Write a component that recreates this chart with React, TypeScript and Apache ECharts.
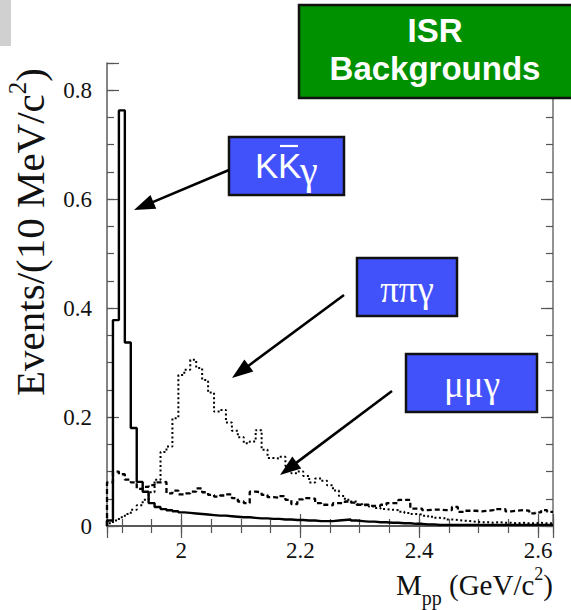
import React, { useEffect, useRef } from "react";
import * as echarts from "echarts";

// Histogram binning: 10 MeV/c^2 bins over the p-pbar mass range
const binStart = 1.875;
const binWidth = 0.01;
const xRange = [1.875, 2.625];
const yRange = [0, 0.85];

// K Kbar gamma background (solid)
const kkGamma = [
  0.010, 0.378, 0.763, 0.337, 0.180, 0.081, 0.063, 0.042, 0.035, 0.031,
  0.029, 0.027, 0.025, 0.024, 0.023, 0.022, 0.021, 0.020, 0.019, 0.019,
  0.018, 0.017, 0.016, 0.016, 0.015, 0.014, 0.014, 0.013, 0.013, 0.012,
  0.012, 0.011, 0.011, 0.010, 0.010, 0.009, 0.009, 0.009, 0.010, 0.011,
  0.012, 0.010, 0.009, 0.008, 0.008, 0.007, 0.007, 0.006, 0.006, 0.005,
  0.005, 0.004, 0.004, 0.003, 0.003, 0.002, 0.002, 0.002, 0.002, 0.002,
  0.002, 0.002, 0.002, 0.002, 0.002, 0.002, 0.002, 0.002, 0.002, 0.002,
  0.002, 0.002, 0.002, 0.002, 0.002,
];

// pi pi gamma background (dotted)
const pipiGamma = [
  0.005, 0.010, 0.016, 0.022, 0.030, 0.038, 0.048, 0.062, 0.085, 0.136,
  0.146, 0.198, 0.277, 0.287, 0.305, 0.290, 0.268, 0.245, 0.210, 0.213,
  0.190, 0.175, 0.163, 0.152, 0.155, 0.176, 0.140, 0.125, 0.124, 0.127,
  0.110, 0.097, 0.100, 0.092, 0.080, 0.087, 0.083, 0.075, 0.065, 0.055,
  0.048, 0.045, 0.040, 0.038, 0.036, 0.033, 0.031, 0.030, 0.029, 0.026,
  0.024, 0.022, 0.021, 0.019, 0.017, 0.015, 0.014, 0.012, 0.011, 0.010,
  0.009, 0.008, 0.007, 0.007, 0.006, 0.007, 0.006, 0.006, 0.005, 0.006,
  0.005, 0.005, 0.006, 0.005, 0.005,
];

// mu mu gamma background (dashed)
const mumuGamma = [
  0.080, 0.100, 0.095, 0.085, 0.080, 0.068, 0.072, 0.075, 0.080, 0.081,
  0.060, 0.065, 0.058, 0.060, 0.063, 0.069, 0.062, 0.057, 0.054, 0.056,
  0.058, 0.051, 0.045, 0.042, 0.063, 0.062, 0.057, 0.053, 0.052, 0.055,
  0.048, 0.040, 0.049, 0.051, 0.050, 0.042, 0.039, 0.038, 0.042, 0.042,
  0.045, 0.043, 0.039, 0.039, 0.037, 0.037, 0.039, 0.042, 0.042, 0.048,
  0.048, 0.032, 0.032, 0.029, 0.030, 0.030, 0.029, 0.029, 0.035, 0.026,
  0.028, 0.028, 0.027, 0.028, 0.029, 0.031, 0.031, 0.027, 0.028, 0.029,
  0.028, 0.023, 0.025, 0.029, 0.026,
];

// Turn bin contents into step-line points on the bin edges
function toSteps(values: number[]): [number, number][] {
  const pts: [number, number][] = [[binStart, 0]];
  values.forEach((v, i) => pts.push([+(binStart + i * binWidth).toFixed(3), v]));
  pts.push([+(binStart + values.length * binWidth).toFixed(3), values[values.length - 1]]);
  return pts;
}

function arrow(x1: number, y1: number, x2: number, y2: number) {
  const dx = x2 - x1;
  const dy = y2 - y1;
  const len = Math.hypot(dx, dy);
  const ux = dx / len;
  const uy = dy / len;
  const hl = 21;
  const hw = 7.5;
  const bx = x2 - ux * hl;
  const by = y2 - uy * hl;
  return [
    { type: "line", shape: { x1, y1, x2: bx + ux * 2, y2: by + uy * 2 }, style: { stroke: "#000", lineWidth: 2.6 } },
    {
      type: "polygon",
      shape: { points: [[x2, y2], [bx - uy * hw, by + ux * hw], [bx + uy * hw, by - ux * hw]] },
      style: { fill: "#000" },
    },
  ];
}

const serif = "'Liberation Serif', 'Times New Roman', serif";
const sans = "'Liberation Sans', Arial, sans-serif";

const frameColor = "#555";
const tickColor = "#555";

function majorAxisX(position: "bottom" | "top", showLabels: boolean) {
  return {
    type: "value",
    gridIndex: 0,
    position,
    min: xRange[0],
    max: xRange[1],
    splitNumber: 4,
    axisLine: { show: true, lineStyle: { color: position === "bottom" ? "#333" : frameColor, width: 1.6 } },
    axisTick: { show: true, inside: true, length: 12, lineStyle: { color: tickColor, width: 1.2 } },
    axisLabel: {
      show: showLabels,
      margin: 13,
      fontFamily: serif,
      fontSize: 23,
      color: "#111",
      formatter: (v: number) => (v < 1.9 || v > 2.61 ? "" : String(v)),
    },
    splitLine: { show: false },
  };
}

function minorAxisX(position: "bottom" | "top") {
  return {
    type: "value",
    gridIndex: 1,
    position,
    min: xRange[0],
    max: xRange[1],
    splitNumber: 15,
    axisLine: { show: false },
    axisTick: { show: true, inside: true, length: 7, lineStyle: { color: tickColor, width: 1.2 } },
    axisLabel: { show: false },
    splitLine: { show: false },
  };
}

function majorAxisY(position: "left" | "right", showLabels: boolean) {
  return {
    type: "value",
    gridIndex: 0,
    position,
    min: yRange[0],
    max: yRange[1],
    interval: 0.2,
    axisLine: { show: true, lineStyle: { color: position === "left" ? "#666" : "#777", width: 1.6 } },
    axisTick: { show: true, inside: true, length: 12, lineStyle: { color: tickColor, width: 1.2 } },
    axisLabel: {
      show: showLabels,
      margin: 15,
      fontFamily: serif,
      fontSize: 23,
      color: "#111",
      formatter: (v: number) => (v > 0.81 ? "" : String(v)),
    },
    splitLine: { show: false },
  };
}

function minorAxisY(position: "left" | "right") {
  return {
    type: "value",
    gridIndex: 1,
    position,
    min: yRange[0],
    max: yRange[1],
    interval: 0.05,
    axisLine: { show: false },
    axisTick: { show: true, inside: true, length: 7, lineStyle: { color: tickColor, width: 1.2 } },
    axisLabel: { show: false },
    splitLine: { show: false },
  };
}

function blueBox(x: number, y: number, w: number, h: number) {
  return {
    type: "rect",
    shape: { x, y, width: w, height: h },
    style: { fill: "#4252fb", stroke: "#111", lineWidth: 2.5 },
  };
}

export default function App() {
  const ref = useRef<HTMLDivElement>(null);

  useEffect(() => {
    if (!ref.current) return;
    const chart = echarts.init(ref.current, undefined, { renderer: "svg" });
    const gridRect = { left: 107, right: 18, top: 63, bottom: 84 };

    const graphics: any[] = [
      // corner of the slide decoration
      { type: "rect", shape: { x: 0, y: 0, width: 11, height: 46 }, style: { fill: "#d0d0d0" } },

      // axis titles
      {
        type: "text",
        x: 30,
        y: 232,
        rotation: Math.PI / 2,
        style: {
          text: "{t|Events/(10 MeV/c}{s|2}{t|)}",
          align: "center",
          verticalAlign: "middle",
          rich: {
            t: { fontFamily: serif, fontSize: 41, fill: "#111" },
            s: { fontFamily: serif, fontSize: 25, fill: "#111", padding: [0, 0, 25, 0] },
          },
        },
      },
      {
        type: "text",
        x: 553,
        y: 585,
        style: {
          text: "{t|M}{b|pp}{t| (GeV/c}{s|2}{t|)}",
          align: "right",
          verticalAlign: "middle",
          rich: {
            t: { fontFamily: serif, fontSize: 29, fill: "#111" },
            b: { fontFamily: serif, fontSize: 20, fill: "#111", padding: [26, 0, 0, 0] },
            s: { fontFamily: serif, fontSize: 18, fill: "#111", padding: [0, 0, 22, 0] },
          },
        },
      },

      // title box
      {
        type: "rect",
        shape: { x: 299, y: 5, width: 290, height: 93 },
        style: { fill: "#009100", stroke: "#111", lineWidth: 2.5 },
      },
      {
        type: "text",
        x: 435,
        y: 30.5,
        style: { text: "ISR", align: "center", verticalAlign: "middle", fontFamily: sans, fontWeight: "bold", fontSize: 33, fill: "#fff" },
      },
      {
        type: "text",
        x: 435,
        y: 68,
        style: { text: "Backgrounds", align: "center", verticalAlign: "middle", fontFamily: sans, fontWeight: "bold", fontSize: 33, fill: "#fff" },
      },

      // K Kbar gamma label
      blueBox(229, 137, 115, 58),
      { type: "text", x: 255, y: 165, style: { text: "K", align: "left", verticalAlign: "middle", fontFamily: sans, fontSize: 35, fill: "#fff" } },
      { type: "text", x: 278, y: 165, style: { text: "K", align: "left", verticalAlign: "middle", fontFamily: sans, fontSize: 35, fill: "#fff" } },
      { type: "line", shape: { x1: 280, y1: 146, x2: 298, y2: 146 }, style: { stroke: "#fff", lineWidth: 2.2 } },
      { type: "text", x: 300, y: 170, style: { text: "γ", align: "left", verticalAlign: "middle", fontFamily: serif, fontSize: 40, fill: "#fff" } },

      // pi pi gamma label
      blueBox(357, 258, 100, 58),
      { type: "text", x: 407, y: 289, style: { text: "ππγ", align: "center", verticalAlign: "middle", fontFamily: serif, fontSize: 37, fill: "#fff" } },

      // mu mu gamma label
      blueBox(406, 354, 131, 58),
      { type: "text", x: 472, y: 384, style: { text: "μμγ", align: "center", verticalAlign: "middle", fontFamily: serif, fontSize: 37, fill: "#fff" } },

      ...arrow(229, 170, 134, 210),
      ...arrow(344, 295, 232, 378),
      ...arrow(392, 391, 280, 475),
    ];

    chart.setOption({
      animation: false,
      backgroundColor: "#fff",
      grid: [
        { ...gridRect, containLabel: false },
        { ...gridRect, containLabel: false },
      ],
      xAxis: [majorAxisX("bottom", true), majorAxisX("top", false), minorAxisX("bottom"), minorAxisX("top")],
      yAxis: [majorAxisY("left", true), majorAxisY("right", false), minorAxisY("left"), minorAxisY("right")],
      series: [
        {
          name: "KKγ",
          type: "line",
          xAxisIndex: 0,
          yAxisIndex: 0,
          step: "end",
          symbol: "none",
          data: toSteps(kkGamma),
          lineStyle: { color: "#000", width: 2.4 },
          silent: true,
          z: 4,
        },
        {
          name: "ππγ",
          type: "line",
          xAxisIndex: 0,
          yAxisIndex: 0,
          step: "end",
          symbol: "none",
          data: toSteps(pipiGamma),
          lineStyle: { color: "#000", width: 2, type: [2, 2.5] },
          silent: true,
          z: 3,
        },
        {
          name: "μμγ",
          type: "line",
          xAxisIndex: 0,
          yAxisIndex: 0,
          step: "end",
          symbol: "none",
          data: toSteps(mumuGamma),
          lineStyle: { color: "#000", width: 2.3, type: [5, 3] },
          silent: true,
          z: 3,
        },
      ],
      graphic: { elements: graphics.map((g) => ({ z: 100, ...g })) },
    });

    return () => chart.dispose();
  }, []);

  return (
    <div
      ref={ref}
      style={{ position: "fixed", left: 0, top: 0, width: 571, height: 610, background: "#fff" }}
    />
  );
}
